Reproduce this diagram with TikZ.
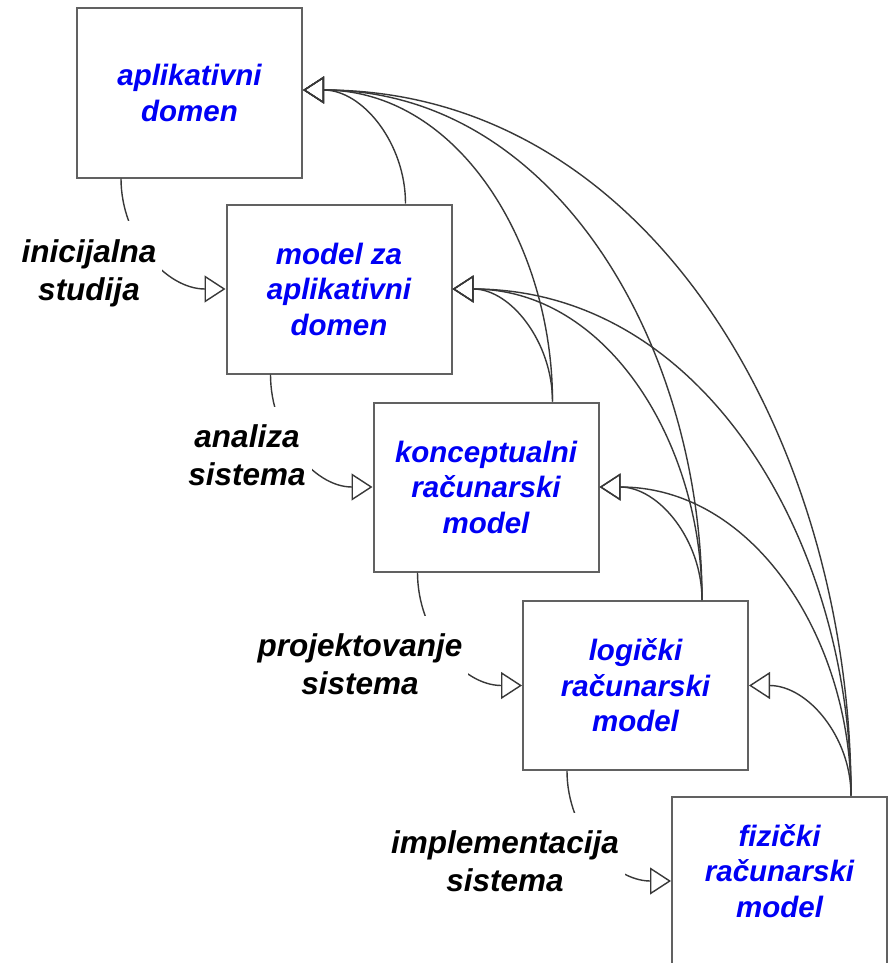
\documentclass[tikz,border=0pt]{standalone}
\usepackage{fontspec}
\setmainfont{Liberation Sans}
\usetikzlibrary{arrows.meta}
\definecolor{stageblue}{RGB}{0,0,245}
\begin{document}
\begin{tikzpicture}[x=1pt,y=1pt,
  stagefont/.style={font=\fontsize{29.5}{35.5}\selectfont\bfseries\itshape},
  stage/.style={draw=black!62, line width=2pt, fill=white,
    minimum width=225pt, minimum height=169pt, inner sep=0pt,
    align=center, text=stageblue, stagefont},
  stagetext/.style={align=center, text=stageblue, inner sep=0pt, stagefont},
  activity/.style={fill=white, align=center, text=black,
    inner xsep=6pt, inner ysep=18pt,
    font=\fontsize{31.5}{37.8}\selectfont\bfseries\itshape},
  link/.style={draw=black!78, line width=1.4pt,
    -{Triangle[open, length=21pt, width=27pt]}},
]
\useasboundingbox (0,0) rectangle (892,-963);
\fill[white] (0,0) rectangle (892,-963);

% development stages, top-left to bottom-right
\node[stage] (b1) at (189.5,-93) {aplikativni\\domen};
\node[stage] (b2) at (339,-289) {model za\\aplikativni\\domen};
\node[stage] (b3) at (486,-487) {konceptualni\\računarski\\model};
\node[stage] (b4) at (635.5,-685.5) {logički\\računarski\\model};
\node[stage, minimum width=215pt] (b5) at (779.5,-881) {};
\node[stagetext] (t5) at ([yshift=10pt]b5.center) {fizički\\računarski\\model};

% entry point of the feedback arrows on the first stage
\coordinate (b1in) at ([yshift=3pt]b1.east);

% forward steps: bottom of one stage into the left side of the next
\draw[link] ([xshift=45pt]b1.south west) to[out=-90,in=180] (b2.west);
\draw[link] ([xshift=45pt]b2.south west) to[out=-90,in=180] (b3.west);
\draw[link] ([xshift=45pt]b3.south west) to[out=-90,in=180] (b4.west);
\draw[link] ([xshift=45pt]b4.south west) to[out=-90,in=180] (b5.west);

% feedback: top of each stage back to every earlier stage
\draw[link] ([xshift=180pt]b2.north west) to[out=90,in=0] (b1in);
\draw[link] ([xshift=180pt]b3.north west) to[out=90,in=0] (b1in);
\draw[link] ([xshift=180pt]b3.north west) to[out=90,in=0] (b2.east);
\draw[link] ([xshift=180pt]b4.north west) to[out=90,in=0] (b1in);
\draw[link] ([xshift=180pt]b4.north west) to[out=90,in=0] (b2.east);
\draw[link] ([xshift=180pt]b4.north west) to[out=90,in=0] (b3.east);
\draw[link] ([xshift=180pt]b5.north west) to[out=90,in=0] (b1in);
\draw[link] ([xshift=180pt]b5.north west) to[out=90,in=0] (b2.east);
\draw[link] ([xshift=180pt]b5.north west) to[out=90,in=0] (b3.east);
\draw[link] ([xshift=180pt]b5.north west) to[out=90,in=0] (b4.east);

% activity labels laid over the forward steps
\node[activity] (l1) at (89,-273) {inicijalna\\studija};
\node[activity] (l2) at (247,-455) {analiza\\sistema};
\node[activity] (l3) at (360,-664) {projektovanje\\sistema};
\node[activity] (l4) at (505,-861) {implementacija\\sistema};
\end{tikzpicture}
\end{document}
